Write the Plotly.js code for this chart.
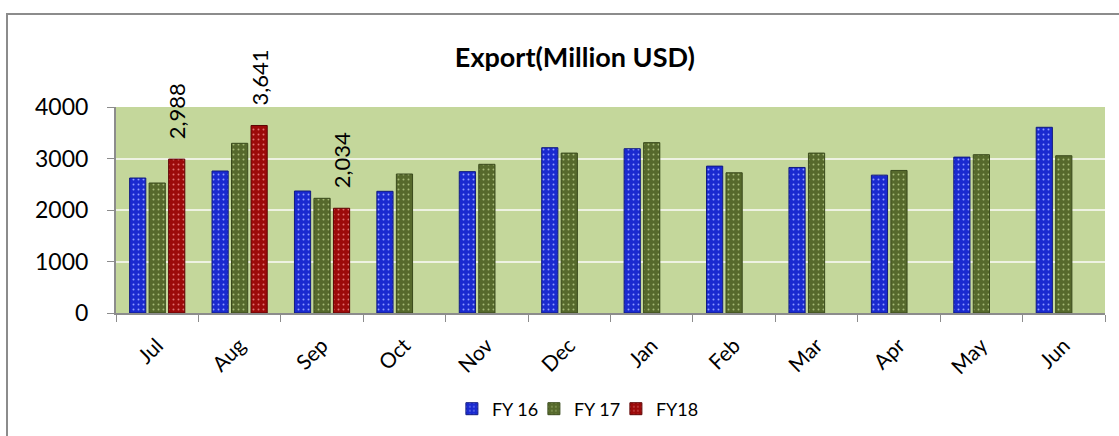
<!DOCTYPE html>
<html>
<head>
<meta charset="utf-8">
<script src="https://cdn.plot.ly/plotly-3.0.1.min.js"></script>
<style>
  html, body { margin: 0; padding: 0; background: #ffffff; overflow: hidden; }
  #frame { position: absolute; left: 6px; top: 13px; width: 1200px; height: 500px;
           border-left: 2px solid #8c8c8c; border-top: 2px solid #8c8c8c; box-sizing: border-box; }
  #chart { position: absolute; left: 0; top: 0; width: 1119px; height: 436px; }
</style>
</head>
<body>
<div id="frame"></div>
<div id="chart"></div>
<script>
const months = ["Jul","Aug","Sep","Oct","Nov","Dec","Jan","Feb","Mar","Apr","May","Jun"];
const fy16 = [2621, 2757, 2369, 2363, 2745, 3210, 3190, 2852, 2826, 2677, 3027, 3606];
const fy17 = [2524, 3295, 2227, 2699, 2887, 3105, 3308, 2723, 3105, 2768, 3074, 3054];
const fy18 = [2988, 3641, 2034, null, null, null, null, null, null, null, null, null];
const fy18Labels = fy18.map(v => v == null ? "" : v.toLocaleString("en-US"));
const yTicks = [0, 1000, 2000, 3000, 4000];

const font = "Lato, 'Open Sans', 'DejaVu Sans', sans-serif";

function barTrace(name, y, color, line, pat) {
  return {
    type: "bar", name: name, x: months, y: y,
    marker: { color: color, line: { color: line, width: 1 },
              pattern: { shape: ".", fgcolor: pat, bgcolor: color, size: 5, solidity: 0.12 } },
    hoverinfo: "x+y+name"
  };
}

const traces = [
  barTrace("FY 16", fy16, "#1a2ad0", "#101a80", "#8f9cff"),
  barTrace("FY 17", fy17, "#56692c", "#3a4a1c", "#a6ba76"),
  Object.assign(barTrace("FY18", fy18, "#9c0a0a", "#5e0505", "#e07070"), {
    text: fy18Labels, texttemplate: "\u00a0\u00a0\u00a0%{text}", textposition: "outside", textangle: -90,
    constraintext: "none", cliponaxis: false,
    textfont: { family: font, size: 22, color: "#000000" }
  })
];

const layout = {
  width: 1119, height: 436,
  margin: { l: 116, r: 14, t: 107, b: 123, pad: 0, autoexpand: false },
  paper_bgcolor: "rgba(0,0,0,0)",
  plot_bgcolor: "#c4d79b",
  barmode: "group", bargap: 0.29, bargroupgap: 0.17,
  showlegend: true,
  font: { family: font, color: "#000000" },
  title: { text: "<b>Export(Million USD)</b>", font: { family: font, size: 27, color: "#000000" },
           xref: "paper", x: 0.464, xanchor: "center", yref: "container", y: 0.867, yanchor: "middle" },
  xaxis: {
    type: "category", categoryorder: "array", categoryarray: months,
    tickson: "boundaries", ticks: "outside", ticklen: 7, tickcolor: "#8c8c8c", tickwidth: 1,
    showline: true, linecolor: "#8c8c8c", linewidth: 2,
    tickangle: -45, ticklabelstandoff: 10, tickfont: { family: font, size: 21, color: "#000000" },
    showgrid: false, zeroline: false, automargin: false
  },
  yaxis: {
    range: [0, 4000], tickvals: yTicks, ticktext: yTicks.map(String),
    ticks: "outside", ticklen: 7, tickcolor: "#8c8c8c", ticklabelstandoff: 14,
    showline: true, linecolor: "#8c8c8c", linewidth: 2,
    gridcolor: "#eef2e2", gridwidth: 2, zeroline: false,
    tickfont: { family: font, size: 23, color: "#000000" }, automargin: false
  },
  legend: {
    orientation: "h", xref: "paper", x: 0.464, xanchor: "center", y: -0.466, yanchor: "middle",
    font: { family: font, size: 18, color: "#000000" }, itemwidth: 30, tracegroupgap: 0,
    entrywidth: 37, entrywidthmode: "pixels",
    bgcolor: "rgba(0,0,0,0)"
  }
};

Plotly.newPlot("chart", traces, layout, { displayModeBar: false, staticPlot: true });
</script>
</body>
</html>
